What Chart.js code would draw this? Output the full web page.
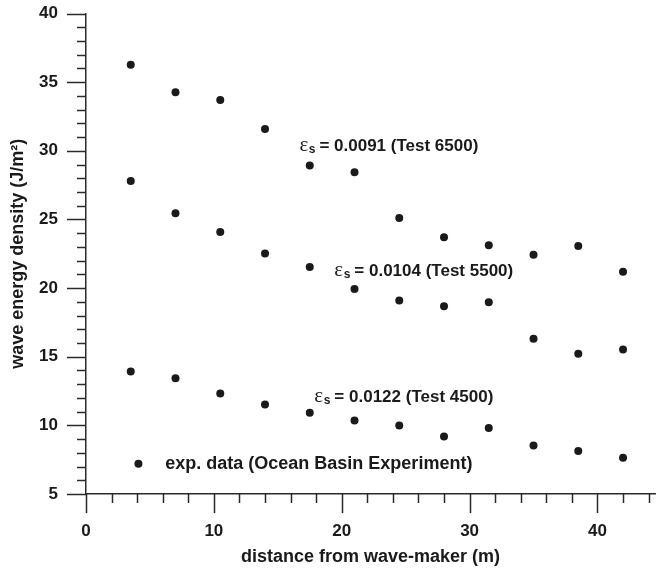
<!DOCTYPE html>
<html>
<head>
<meta charset="utf-8">
<script src="https://cdn.jsdelivr.net/npm/chart.js@4"></script>
<style>
    html, body { margin: 0; padding: 0; background: #fff; }
    #wrap { width: 659px; height: 568px; }
</style>
</head>
<body>
<div id="wrap"><canvas id="energyChart" width="659" height="568"></canvas></div>
<script>
// measured wave energy density along the basin, one series per test
const distance = [3.5, 7, 10.5, 14, 17.5, 21, 24.5, 28, 31.5, 35, 38.5, 42];
const test6500 = [36.27, 34.26, 33.70, 31.59, 28.92, 28.44, 25.11, 23.70, 23.12, 22.42, 23.07, 21.18];
const test5500 = [27.80, 25.45, 24.09, 22.51, 21.54, 19.94, 19.09, 18.68, 18.97, 16.30, 15.21, 15.52];
const test4500 = [13.92, 13.44, 12.32, 11.52, 10.92, 10.36, 9.99, 9.19, 9.80, 8.54, 8.13, 7.64];
const caseNames = ["0.0091 (Test 6500)", "0.0104 (Test 5500)", "0.0122 (Test 4500)"];
const legendText = "exp. data (Ocean Basin Experiment)";

const ink = "#1a1a1a";
const axisInk = "#2a2a2a";
const sans = '"Liberation Sans", Arial, sans-serif';

function toPoints(values) {
    return values.map((v, i) => ({ x: distance[i], y: v }));
}

// where the epsilon labels and the legend sit, in data units
const caseSpots = [
    { x: 16.69, y: 30.4 },
    { x: 19.42, y: 21.35 },
    { x: 17.86, y: 12.17 },
];
const legendSpot = { x: 4.1, y: 7.2, textX: 6.2 };

function drawCaseLabel(ctx, x0, yMid, text) {
    const base = yMid + 6;
    ctx.textAlign = "left";
    ctx.textBaseline = "alphabetic";
    ctx.font = '21px "Liberation Serif", serif';
    ctx.fillText("\u03b5", x0, base);
    let x = x0 + ctx.measureText("\u03b5").width + 0.5;
    ctx.font = "bold 12px " + sans;
    ctx.fillText("s", x, base + 2);
    x += ctx.measureText("s").width + 4;
    ctx.font = "bold 17px " + sans;
    ctx.fillText("= " + text, x, base);
}

const axisDecor = {
    id: "axisDecor",
    afterDraw(chart) {
        const { ctx, scales: { x, y } } = chart;
        ctx.save();
        ctx.strokeStyle = axisInk;
        ctx.lineWidth = 1.5;
        ctx.beginPath();
        x.ticks.forEach(t => {
            if (t.value % 2 !== 0) return;
            const px = Math.round(x.getPixelForValue(t.value)) + 0.5;
            const len = t.value % 10 === 0 ? 19 : 9;
            ctx.moveTo(px, x.top);
            ctx.lineTo(px, x.top + len);
        });
        y.ticks.forEach(t => {
            const py = Math.round(y.getPixelForValue(t.value)) + 0.5;
            const len = t.value % 5 === 0 ? 19 : 9;
            ctx.moveTo(y.right, py);
            ctx.lineTo(y.right - len, py);
        });
        ctx.stroke();

        ctx.fillStyle = ink;
        caseNames.forEach((name, i) => {
            const s = caseSpots[i];
            drawCaseLabel(ctx, x.getPixelForValue(s.x), y.getPixelForValue(s.y), name);
        });

        // legend entry inside the plot
        const ly = y.getPixelForValue(legendSpot.y);
        ctx.beginPath();
        ctx.arc(x.getPixelForValue(legendSpot.x), ly, 4, 0, Math.PI * 2);
        ctx.fill();
        ctx.font = "bold 18px " + sans;
        ctx.textAlign = "left";
        ctx.textBaseline = "middle";
        ctx.fillText(legendText, x.getPixelForValue(legendSpot.textX), ly);
        ctx.restore();
    }
};

const pointStyle = {
    showLine: false,
    pointRadius: 4,
    pointHoverRadius: 4,
    pointBackgroundColor: ink,
    pointBorderWidth: 0,
};

new Chart(document.getElementById("energyChart").getContext("2d"), {
    type: "scatter",
    data: {
        datasets: [
            Object.assign({ label: "Test 6500", data: toPoints(test6500) }, pointStyle),
            Object.assign({ label: "Test 5500", data: toPoints(test5500) }, pointStyle),
            Object.assign({ label: "Test 4500", data: toPoints(test4500) }, pointStyle),
        ],
    },
    options: {
        responsive: false,
        animation: false,
        devicePixelRatio: 1,
        layout: { padding: { top: 13.5, right: 0, left: 0, bottom: 0 } },
        plugins: { legend: { display: false }, tooltip: { enabled: false } },
        scales: {
            x: {
                type: "linear",
                min: 0,
                max: 44.5,
                border: { display: true, color: axisInk, width: 1.5 },
                grid: { drawOnChartArea: false, tickLength: 19, tickColor: "rgba(0,0,0,0)" },
                ticks: {
                    stepSize: 2,
                    includeBounds: false,
                    autoSkip: false,
                    maxRotation: 0,
                    padding: 8,
                    color: ink,
                    font: { family: sans, size: 17, weight: "bold" },
                    callback: v => (v % 10 === 0 ? String(v) : ""),
                },
                title: {
                    display: true,
                    text: "distance from wave-maker (m)",
                    color: ink,
                    font: { family: sans, size: 18, weight: "bold" },
                    padding: { top: 0, bottom: 0 },
                },
                afterFit(scale) {
                    scale.height = 74;
                    scale.paddingLeft = 0;
                    scale.paddingRight = 0;
                },
            },
            y: {
                type: "linear",
                min: 5,
                max: 40,
                border: { display: true, color: axisInk, width: 1.5 },
                grid: { drawOnChartArea: false, tickLength: 19, tickColor: "rgba(0,0,0,0)" },
                ticks: {
                    stepSize: 1,
                    autoSkip: false,
                    padding: 9,
                    color: ink,
                    font: { family: sans, size: 17, weight: "bold" },
                    callback: v => (v % 5 === 0 ? String(v) : ""),
                },
                title: {
                    display: true,
                    text: "wave energy density (J/m\u00b2)",
                    color: ink,
                    font: { family: sans, size: 18, weight: "bold" },
                    padding: { top: 7, bottom: 0 },
                },
                afterFit(scale) {
                    scale.width = 86;
                    scale.paddingTop = 0;
                    scale.paddingBottom = 0;
                },
            },
        },
    },
    plugins: [axisDecor],
});
</script>
</body>
</html>
